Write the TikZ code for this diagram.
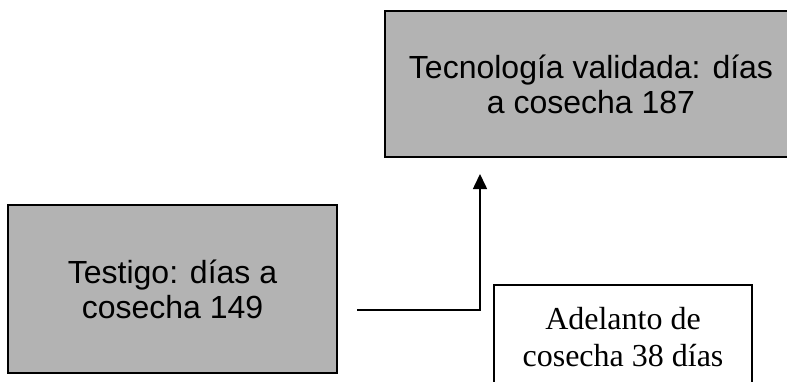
\documentclass[tikz,border=0pt]{standalone}
\usepackage{fontspec}
\setmainfont{Liberation Serif}
\newfontfamily\arialfont{Liberation Sans}
\usetikzlibrary{arrows.meta}
\definecolor{boxgray}{RGB}{179,179,179}
\tikzset{
  graybox/.style={draw, line width=1.3pt, fill=boxgray, inner sep=0pt, align=center,
    font=\arialfont\fontsize{32}{35}\selectfont},
  notebox/.style={draw, line width=1.3pt, fill=white, inner sep=0pt, align=center,
    font=\fontsize{32}{37}\selectfont},
  link/.style={line width=1.6pt, -{Triangle[width=14pt,length=15pt]}}
}
\begin{document}
\begin{tikzpicture}[x=1pt, y=-1pt]
    \clip (0,0) rectangle (787,381);
    \fill[white] (0,0) rectangle (787,381);

    \node[graybox, minimum width=412pt, minimum height=146pt] (tech) at (591,84)
        {Tecnología validada: días\\a cosecha 187};
    \node[graybox, minimum width=329pt, minimum height=168pt] (control) at (172.5,289)
        {Testigo: días a\\cosecha 149};
    \node[notebox, minimum width=258pt, minimum height=104pt] (gain) at (623,337)
        {Adelanto de\\cosecha 38 días};

    \coordinate (from) at (357,310);
    \coordinate (bend) at (480,310);
    \coordinate (to) at (480,174);

    \draw[link] (from) -- (bend) -- (to);
\end{tikzpicture}
\end{document}
